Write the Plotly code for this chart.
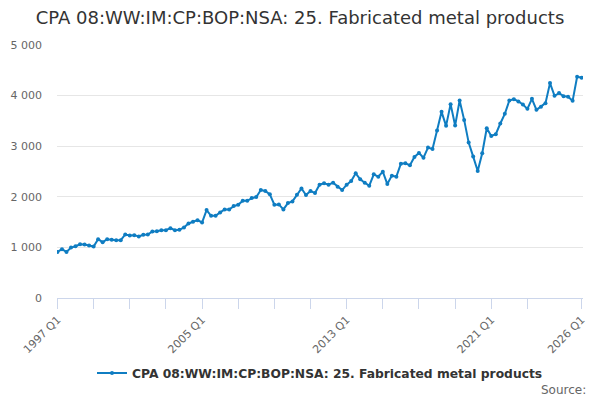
import plotly.graph_objects as go

title_text = "CPA 08:WW:IM:CP:BOP:NSA: 25. Fabricated metal products"
series_name = "CPA 08:WW:IM:CP:BOP:NSA: 25. Fabricated metal products"

quarters = [f"{y} Q{q}" for y in range(1997, 2027) for q in range(1, 5)][:117]

values = [
    911, 964, 911, 997, 1024, 1063, 1057, 1037,
    1017, 1162, 1103, 1162, 1149, 1143, 1143, 1255,
    1235, 1242, 1215, 1248, 1255, 1314, 1320, 1340,
    1340, 1380, 1340, 1347, 1394, 1473, 1506, 1539,
    1492, 1737, 1625, 1625, 1691, 1750, 1750, 1816,
    1843, 1922, 1922, 1975, 1995, 2133, 2114, 2048,
    1843, 1849, 1750, 1876, 1909, 2041, 2166, 2034,
    2114, 2074, 2239, 2266, 2239, 2279, 2199, 2133,
    2239, 2312, 2464, 2345, 2279, 2219, 2444, 2398,
    2497, 2252, 2418, 2398, 2655, 2662, 2622, 2787,
    2866, 2774, 2972, 2946, 3309, 3679, 3402, 3831,
    3408, 3904, 3520, 3071, 2794, 2510, 2860, 3355,
    3203, 3236, 3448, 3639, 3904, 3930, 3884, 3824,
    3738, 3936, 3719, 3778, 3851, 4247, 3996, 4049,
    3989, 3976, 3897, 4373, 4353,
]

tick_positions = [quarters[i] for i in range(0, 105, 8)] + [quarters[-1]]
labelled = ["1997 Q1", "2005 Q1", "2013 Q1", "2021 Q1", "2026 Q1"]
tick_labels = [t if t in labelled else "" for t in tick_positions]

# page body has an 8px margin, so the figure is drawn 8px smaller and shifted
W, H = 592, 392

fig = go.Figure()
fig.add_trace(
    go.Scatter(
        x=quarters,
        y=values,
        mode="lines+markers",
        name=series_name,
        line=dict(color="#0f7dc2", width=2),
        marker=dict(color="#0f7dc2", size=4),
    )
)

fig.update_layout(
    width=W,
    height=H,
    margin=dict(l=49, r=17, t=37, b=102),
    paper_bgcolor="white",
    plot_bgcolor="white",
    separators=". ",
    font=dict(family="DejaVu Sans", color="#333333"),
    title=dict(
        text=title_text,
        x=292 / W,
        xanchor="center",
        y=1 - 10 / H,
        yanchor="middle",
        yref="container",
        font=dict(size=18, color="#333333"),
    ),
    showlegend=True,
    legend=dict(
        orientation="h",
        x=0.5,
        xanchor="center",
        y=-0.296,
        yanchor="middle",
        font=dict(size=12.3, color="#333333", weight="bold"),
    ),
    annotations=[
        dict(
            text="Source:",
            xref="paper",
            yref="paper",
            x=1.0095,
            y=-0.364,
            xanchor="right",
            yanchor="middle",
            showarrow=False,
            font=dict(size=12, color="#666666"),
        )
    ],
)

fig.update_xaxes(
    type="category",
    range=[-0.1, 116.3],
    tickmode="array",
    tickvals=tick_positions,
    ticktext=tick_labels,
    tickangle=-45,
    ticks="outside",
    ticklen=10,
    tickcolor="#ccd6eb",
    showline=True,
    linecolor="#ccd6eb",
    showgrid=False,
    zeroline=False,
    automargin=False,
    tickfont=dict(size=11, color="#666666"),
)

fig.update_yaxes(
    range=[0, 5000],
    tickvals=[0, 1000, 2000, 3000, 4000, 5000],
    tickformat=",d",
    showgrid=True,
    gridcolor="#e6e6e6",
    zeroline=False,
    showline=False,
    ticks="",
    ticklabelstandoff=14,
    automargin=False,
    tickfont=dict(size=11, color="#666666"),
)

fig.write_html("out.html")
